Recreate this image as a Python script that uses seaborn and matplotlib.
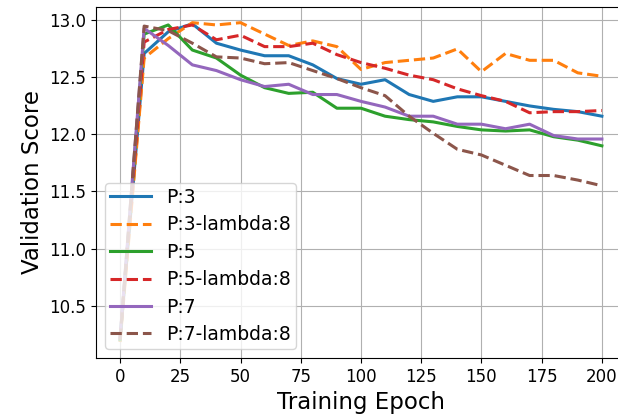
import numpy as np
import pandas as pd
import seaborn as sns
import matplotlib
matplotlib.use('Agg')
import matplotlib.pyplot as plt

# validation score per run, read every 10 epochs
epochs = list(range(0, 201, 10))

p3 = [10.20, 12.71, 12.90, 12.97, 12.80, 12.74, 12.69, 12.69, 12.61, 12.49, 12.44,
      12.48, 12.35, 12.29, 12.33, 12.33, 12.29, 12.25, 12.22, 12.20, 12.16]
p3_l8 = [10.18, 12.67, 12.84, 12.98, 12.96, 12.98, 12.88, 12.78, 12.82, 12.77, 12.57,
         12.63, 12.65, 12.67, 12.75, 12.55, 12.71, 12.65, 12.65, 12.54, 12.51]
p5 = [10.20, 12.88, 12.96, 12.74, 12.67, 12.52, 12.41, 12.36, 12.37, 12.23, 12.23,
      12.16, 12.13, 12.11, 12.07, 12.04, 12.03, 12.04, 11.98, 11.95, 11.90]
p5_l8 = [10.21, 12.81, 12.92, 12.96, 12.83, 12.87, 12.77, 12.77, 12.80, 12.70, 12.63,
         12.58, 12.52, 12.48, 12.40, 12.34, 12.29, 12.19, 12.20, 12.20, 12.21]
p7 = [10.22, 12.93, 12.78, 12.61, 12.56, 12.48, 12.42, 12.44, 12.35, 12.35, 12.29,
      12.24, 12.16, 12.16, 12.09, 12.09, 12.05, 12.09, 11.99, 11.96, 11.96]
p7_l8 = [10.20, 12.95, 12.91, 12.80, 12.68, 12.67, 12.62, 12.63, 12.56, 12.49, 12.41,
         12.34, 12.16, 12.01, 11.87, 11.82, 11.73, 11.64, 11.64, 11.60, 11.55]

labels = ['P:3', 'P:3-lambda:8', 'P:5', 'P:5-lambda:8', 'P:7', 'P:7-lambda:8']
series = [p3, p3_l8, p5, p5_l8, p7, p7_l8]

# long format for seaborn
df = pd.concat([pd.DataFrame({'epoch': epochs, 'score': s, 'run': lab})
                for lab, s in zip(labels, series)], ignore_index=True)

fig = plt.figure(figsize=(6.18, 4.16), dpi=100)
# axes runs a little past the right edge like the original crop
ax = fig.add_axes([0.1553, 0.1394, 0.8576, 0.8445])

dash_map = {lab: ('' if 'lambda' not in lab else (3.7, 1.6)) for lab in labels}
sns.lineplot(data=df, x='epoch', y='score', hue='run', style='run',
             dashes=dash_map, palette='tab10', linewidth=2.2, ax=ax)

ax.grid(True, color='#b0b0b0', linewidth=0.8)
ax.set_xticks([0, 25, 50, 75, 100, 125, 150, 175, 200])
ax.set_yticks([10.5, 11.0, 11.5, 12.0, 12.5, 13.0])
ax.tick_params(labelsize=12)
ax.set_xlabel('Training Epoch', fontsize=16.5)
ax.set_ylabel('Validation Score', fontsize=16.5)

leg = ax.legend(loc='lower left', fontsize=13.5, handlelength=2.2,
                labelspacing=0.45, borderpad=0.25)
leg.set_title(None)

plt.savefig('out.png', dpi=100)
